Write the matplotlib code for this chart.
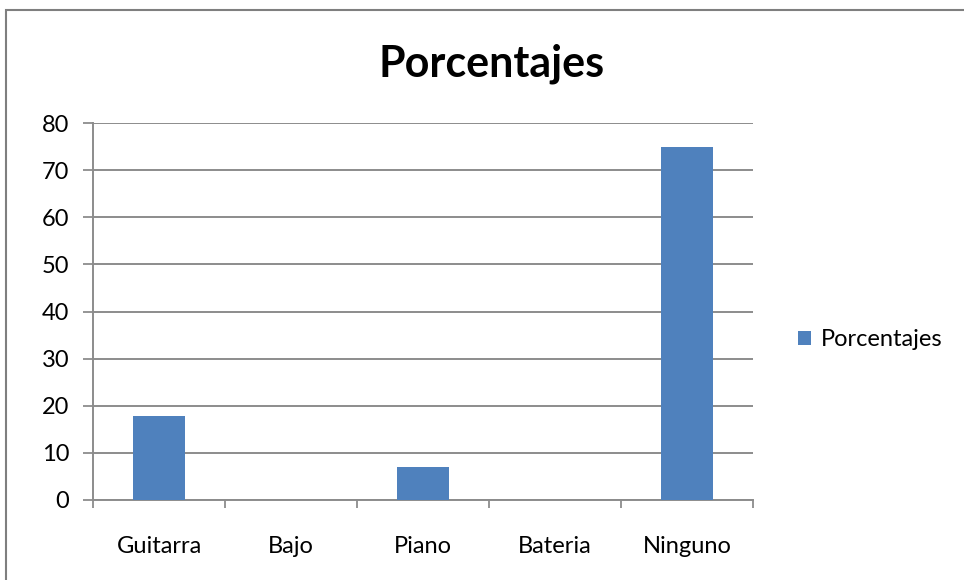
import matplotlib.pyplot as plt
from matplotlib.patches import Rectangle

# Data
categories = ['Guitarra', 'Bajo', 'Piano', 'Bateria', 'Ninguno']
values = [17.8, 0, 7.1, 0, 75]
series_name = 'Porcentajes'
yticks = [0, 10, 20, 30, 40, 50, 60, 70, 80]

plt.rcParams['font.family'] = ['Lato', 'DejaVu Sans']

fig = plt.figure(figsize=(9.64, 5.8), dpi=100)
ax = fig.add_axes([93 / 964, 80 / 580, 660 / 964, 377 / 580])

x = range(len(categories))
ax.bar(x, values, width=0.39, color='#4F81BD', label=series_name, zorder=3)

ax.set_xlim(-0.5, len(categories) - 0.5)
ax.set_ylim(0, 80)
ax.set_yticks(yticks)
ax.set_yticklabels([str(t) for t in yticks], fontsize=17)
ax.tick_params(axis='y', length=7, color='#8c8c8c', width=1.3, pad=10)

# category labels between boundary ticks
ax.set_xticks([i - 0.5 for i in range(len(categories) + 1)])
ax.set_xticklabels([])
ax.set_xticks(list(x), minor=True)
ax.set_xticklabels(categories, minor=True, fontsize=17)
ax.tick_params(axis='x', which='major', length=6, color='#8c8c8c', width=1.3)
ax.tick_params(axis='x', which='minor', length=0, pad=26)

ax.grid(axis='y', color='#8c8c8c', linewidth=1.4, zorder=0)
for s in ['top', 'right']:
    ax.spines[s].set_visible(False)
for s in ['left', 'bottom']:
    ax.spines[s].set_color('#8c8c8c')
    ax.spines[s].set_linewidth(1.4)

fig.text(492 / 964, 1 - 76 / 580, 'Porcentajes', ha='center', va='baseline',
         fontsize=31, fontweight='bold')

fig.legend(loc='center left', bbox_to_anchor=(777 / 964, 1 - 340 / 580),
           frameon=False, fontsize=17, handlelength=0.55, handleheight=0.55,
           handletextpad=0.4)

# outer chart border
fig.patches.append(Rectangle((6 / 964, -0.1), 1.2, 1.1 - 10 / 580,
                             transform=fig.transFigure, fill=False,
                             edgecolor='#7f7f7f', linewidth=1.5))

fig.savefig('out.png', dpi=100)
